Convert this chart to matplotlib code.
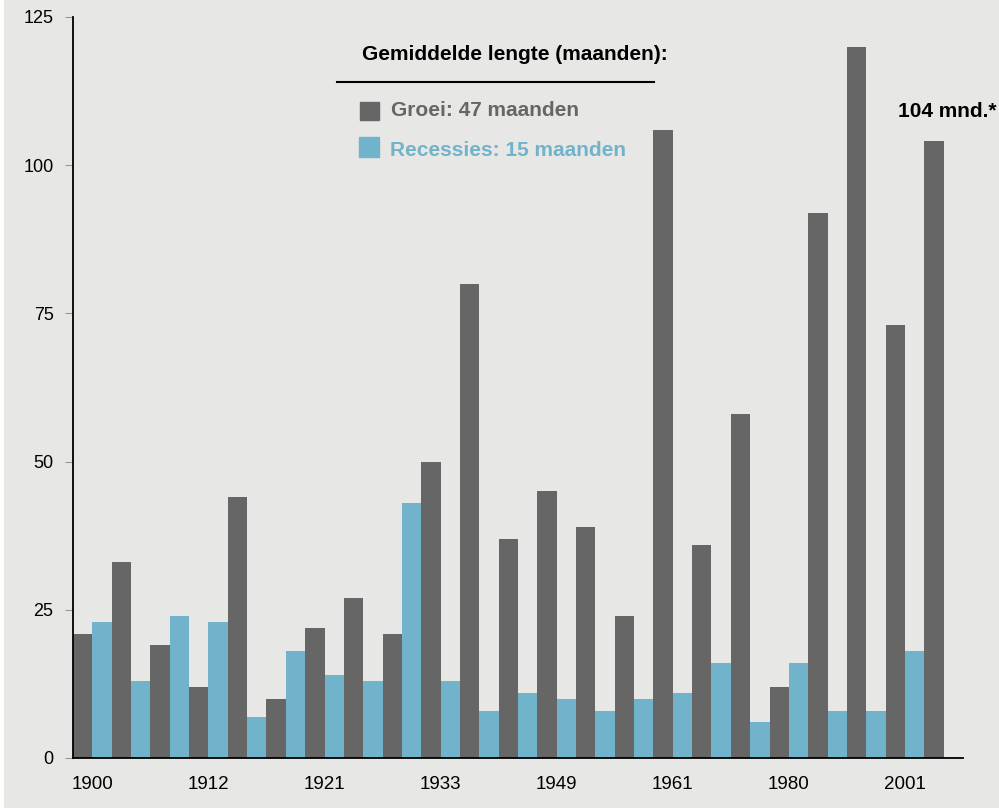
import matplotlib
matplotlib.use("Agg")
import matplotlib.pyplot as plt
import matplotlib.patches as mpatches
import numpy as np

# Expansions (groei) and recessions alternate, starting with an expansion
groei = [21, 33, 19, 12, 44, 10, 22, 27, 21, 50, 80, 37, 45, 39, 24,
         106, 36, 58, 12, 92, 120, 73, 104]
recessies = [23, 13, 24, 23, 7, 18, 14, 13, 43, 13, 8, 11, 10, 8, 10,
             11, 16, 6, 16, 8, 8, 18]
year_labels = ["1900", "1912", "1921", "1933", "1949", "1961", "1980", "2001"]
year_pos = [0.5, 6.5, 12.5, 18.5, 24.5, 30.5, 36.5, 42.5]
yticks = [0, 25, 50, 75, 100, 125]

GRAY = "#666666"
BLUE = "#72b3cc"
BG = "#e7e7e5"

plt.rcParams['font.family'] = ['Liberation Sans', 'DejaVu Sans']

fig = plt.figure(figsize=(9.99, 8.08), dpi=100, facecolor="white")
fig.patches.append(mpatches.Rectangle((4 / 999, 1 / 808), 1, 1,
                                      transform=fig.transFigure,
                                      color=BG, zorder=-10))
ax = fig.add_axes([73 / 999, 50 / 808, 890 / 999, 741 / 808])
ax.set_facecolor(BG)

# interleave the two series into one sequence of bars
values, colors = [], []
for i, g in enumerate(groei):
    values.append(g)
    colors.append(GRAY)
    if i < len(recessies):
        values.append(recessies[i])
        colors.append(BLUE)
x = np.arange(len(values))
ax.bar(x, values, width=1.0, color=colors, edgecolor="none")

ax.set_xlim(-0.5, 45.5)
ax.set_ylim(0, 125)
ax.set_yticks(yticks)
ax.set_yticklabels([str(t) for t in yticks], fontsize=13)
ax.set_xticks(year_pos)
ax.set_xticklabels(year_labels, fontsize=13.5)
ax.tick_params(axis="x", length=0, pad=13)
ax.tick_params(axis="y", length=6, color="#999999", pad=8)
for s in ["top", "right"]:
    ax.spines[s].set_visible(False)
for s in ["left", "bottom"]:
    ax.spines[s].set_linewidth(1.3)

# legend block
fig.text(362 / 999, 1 - 55 / 808, "Gemiddelde lengte (maanden):",
         fontsize=15, fontweight="bold", va="center", ha="left")
fig.add_artist(plt.Line2D([337 / 999, 654 / 999], [1 - 82 / 808, 1 - 82 / 808],
                          color="black", lw=1.5))
fig.patches.append(mpatches.Rectangle((360 / 999, 1 - 120 / 808), 19 / 999, 18 / 808,
                                      transform=fig.transFigure, color=GRAY))
fig.text(391 / 999, 1 - 110 / 808, "Groei: 47 maanden", fontsize=15,
         fontweight="bold", color=GRAY, va="center", ha="left")
fig.patches.append(mpatches.Rectangle((359 / 999, 1 - 157 / 808), 20 / 999, 20 / 808,
                                      transform=fig.transFigure, color=BLUE))
fig.text(390 / 999, 1 - 150 / 808, "Recessies: 15 maanden", fontsize=15,
         fontweight="bold", color=BLUE, va="center", ha="left")

ax.text(44.7, 109, "104 mnd.*", fontsize=15, fontweight="bold",
        ha="center", va="center", clip_on=False)

fig.savefig("out.png", dpi=100, facecolor=fig.get_facecolor())
